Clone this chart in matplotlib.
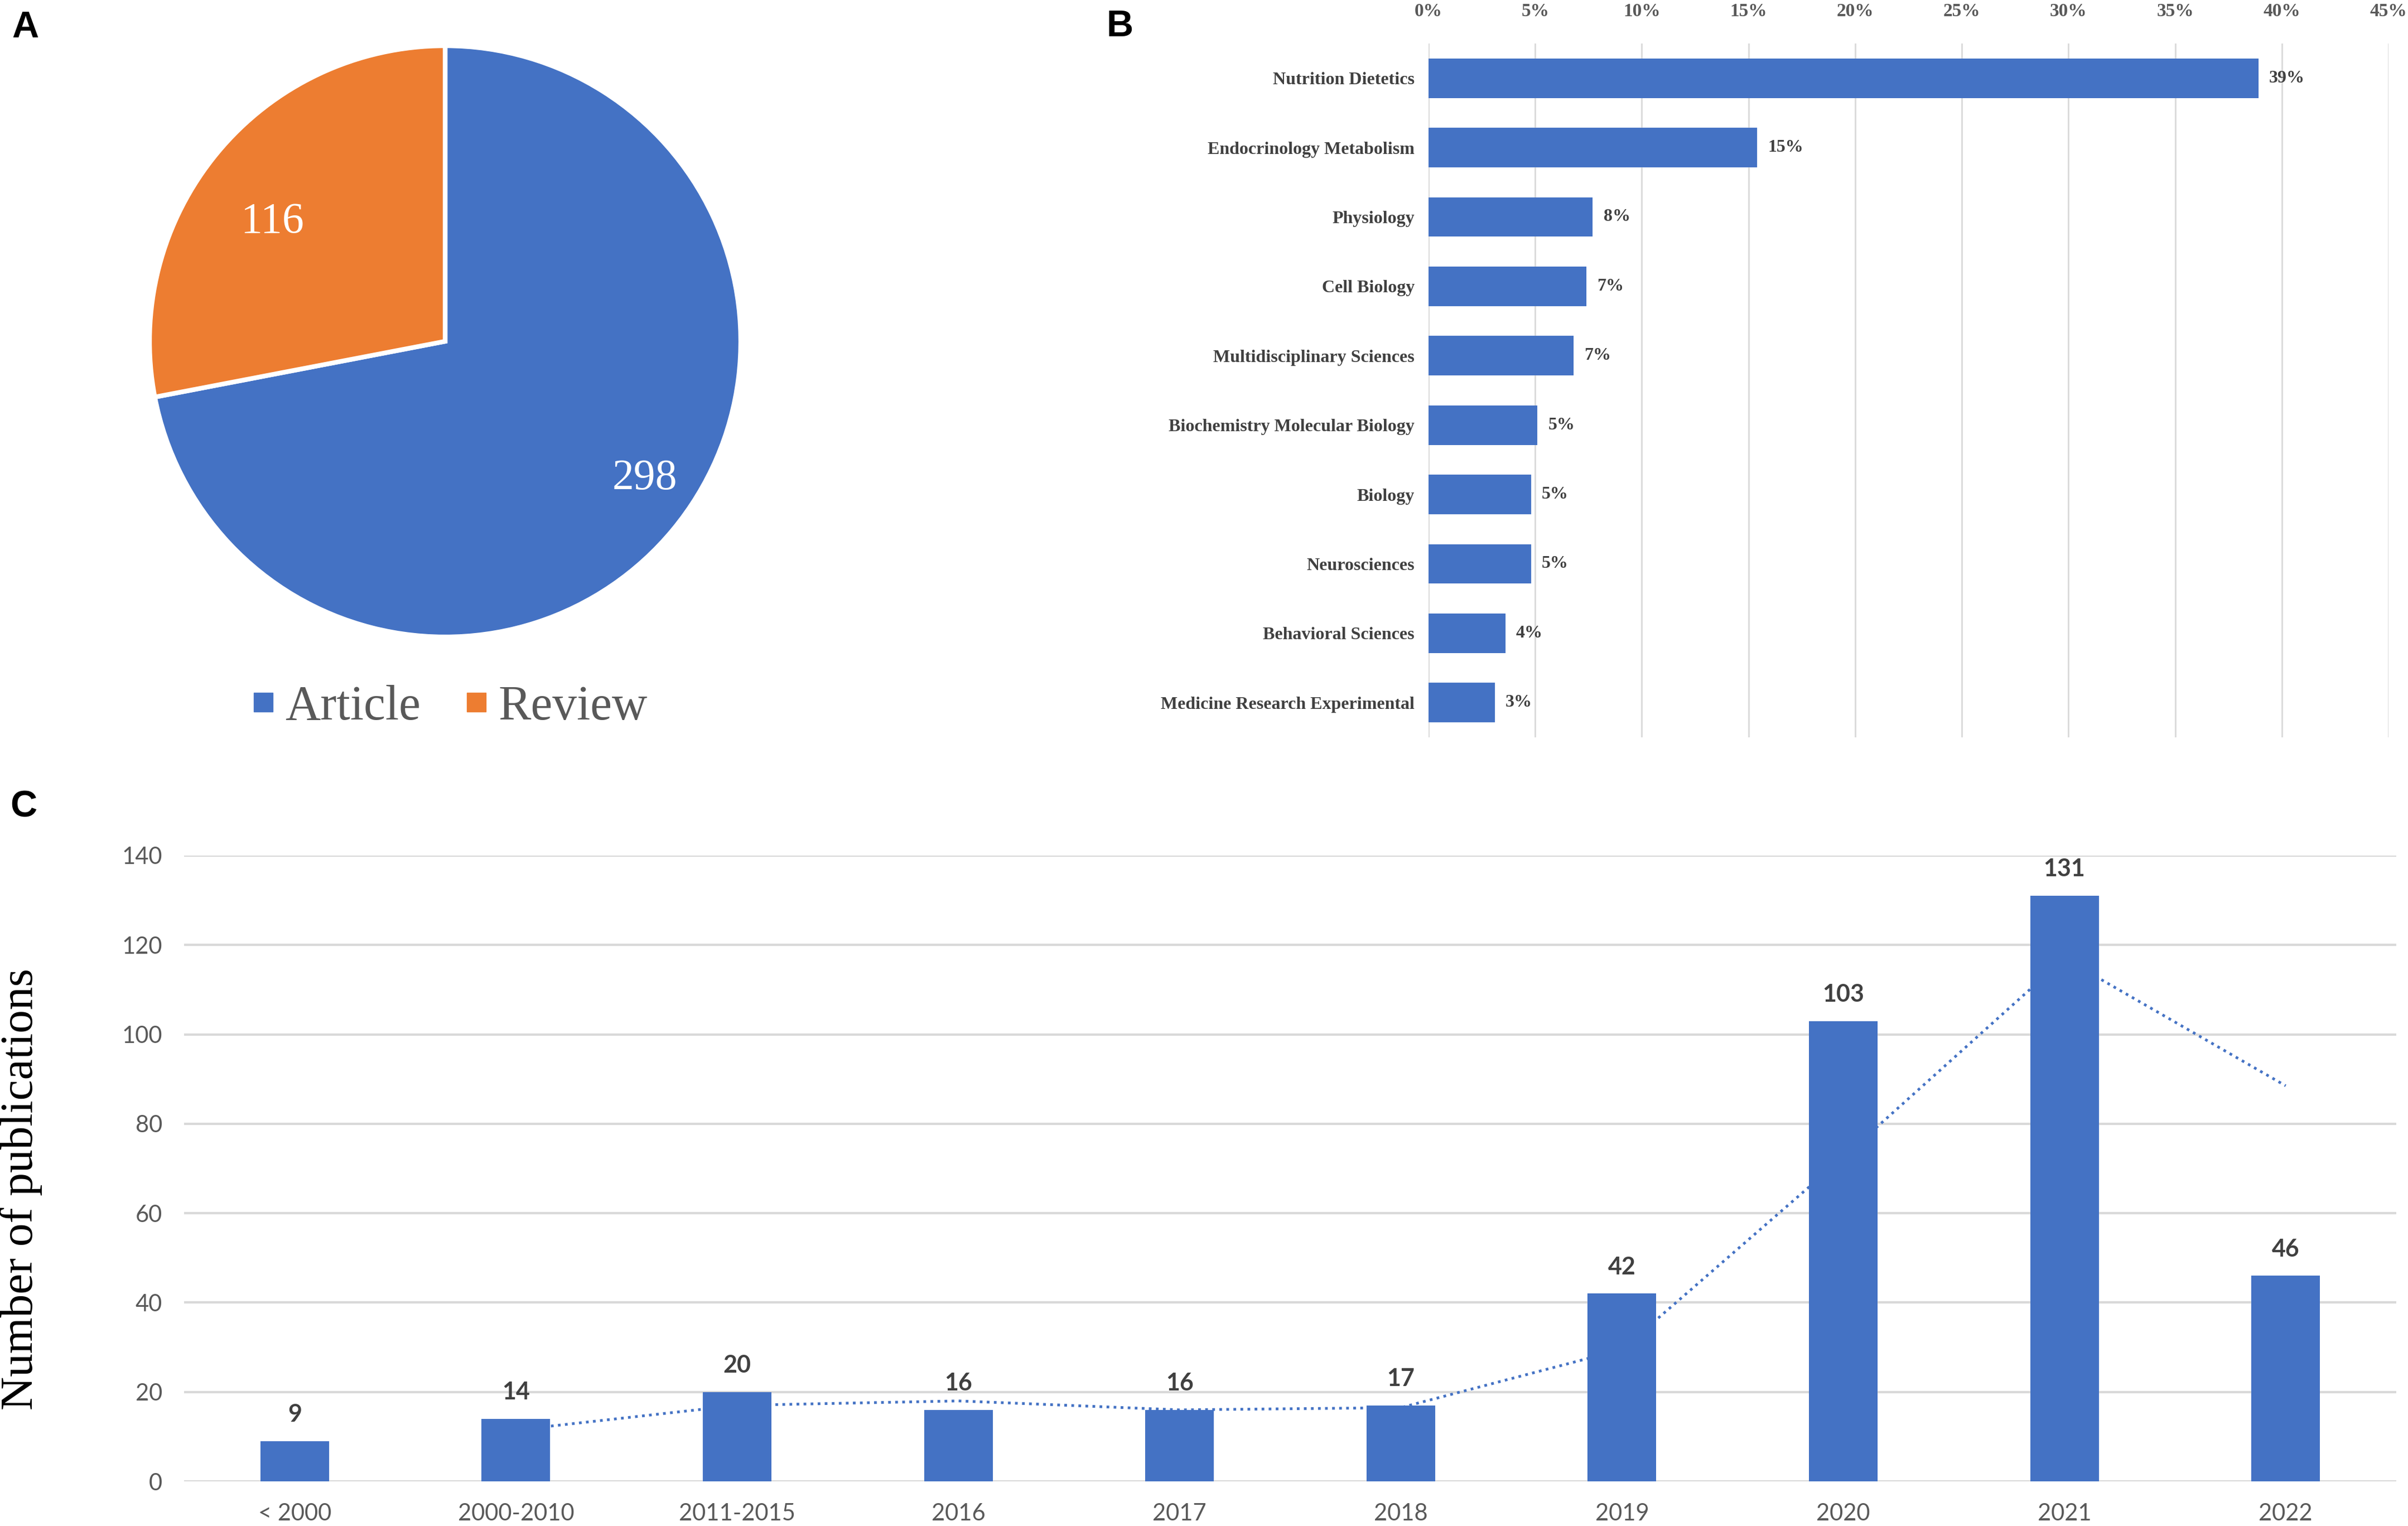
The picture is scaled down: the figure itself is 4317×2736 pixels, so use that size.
import numpy as np
import matplotlib
matplotlib.use("Agg")
import matplotlib.pyplot as plt
from matplotlib.lines import Line2D

# panel A: document types
doc_types = ["Article", "Review"]
doc_counts = [298, 116]

# panel B: research areas (share of publications, %)
areas = ["Nutrition Dietetics", "Endocrinology Metabolism", "Physiology", "Cell Biology",
         "Multidisciplinary Sciences", "Biochemistry Molecular Biology", "Biology",
         "Neurosciences", "Behavioral Sciences", "Medicine Research Experimental"]
area_share = [38.9, 15.4, 7.7, 7.4, 6.8, 5.1, 4.8, 4.8, 3.6, 3.1]
share_ticks = [0, 5, 10, 15, 20, 25, 30, 35, 40, 45]

# panel C: publications per period
periods = ["< 2000", "2000-2010", "2011-2015", "2016", "2017", "2018", "2019", "2020", "2021", "2022"]
pubs = [9, 14, 20, 16, 16, 17, 42, 103, 131, 46]
pub_ticks = [0, 20, 40, 60, 80, 100, 120, 140]

BLUE = "#4472C4"
ORANGE = "#ED7D31"
GRID = "#d9d9d9"
GRAY = "#595959"

W, H = 4317, 2736
fig = plt.figure(figsize=(W / 100, H / 100), dpi=100)

def box(x0, y0, x1, y1):
    # pixel box -> figure fraction rect
    return [x0 / W, 1 - y1 / H, (x1 - x0) / W, (y1 - y0) / H]

# ---- A: pie
axA = fig.add_axes(box(263, 82, 1333, 1142))
wedges, _ = axA.pie(doc_counts, colors=[BLUE, ORANGE], startangle=90, counterclock=False,
                    wedgeprops=dict(edgecolor="white", linewidth=6))
# value labels inside the slices
for w, n, dist in zip(wedges, doc_counts, [0.82, 0.71]):
    w.set_clip_on(False)
    ang = np.deg2rad((w.theta1 + w.theta2) / 2 + 5)
    axA.text(dist * np.cos(ang), dist * np.sin(ang), str(n), ha="center", va="center",
             color="white", fontsize=56, family="Liberation Serif")
axA.set_xlim(-1, 1)
axA.set_ylim(-1, 1)
axA.set_aspect("equal")
handles = [Line2D([], [], marker="s", linestyle="none", markersize=24, color=c) for c in [BLUE, ORANGE]]
leg = fig.legend(handles, doc_types, loc="center", bbox_to_anchor=(790 / W, 1 - 1268 / H), ncol=2,
                 frameon=False, handletextpad=-0.15, columnspacing=0.55, handlelength=1.2,
                 prop=dict(family="Liberation Serif", size=63))
for t in leg.get_texts():
    t.set_color(GRAY)

# ---- B: horizontal bars
axB = fig.add_axes(box(2561, 78, 4282, 1322))
ypos = np.arange(len(areas))
axB.barh(ypos, area_share, height=0.57, color=BLUE, zorder=2)
axB.set_ylim(len(areas) - 0.5, -0.5)
axB.set_xlim(0, 45)
axB.set_xticks(share_ticks)
axB.set_xticklabels(["%d%%" % v for v in share_ticks])
axB.xaxis.tick_top()
axB.set_yticks(ypos)
axB.set_yticklabels(areas)
axB.tick_params(axis="x", length=0, pad=30, labelsize=24, labelcolor=GRAY)
axB.tick_params(axis="y", length=0, pad=18, labelsize=23, labelcolor="#404040")
for lab in axB.get_xticklabels() + axB.get_yticklabels():
    lab.set_family("Liberation Serif")
    lab.set_fontweight("bold")
axB.grid(axis="x", color=GRID, linewidth=2, zorder=0)
for s in axB.spines.values():
    s.set_visible(False)
for y, v in zip(ypos, area_share):
    axB.annotate("%d%%" % round(v), (v, y), xytext=(14, 0), textcoords="offset points",
                 va="center", ha="left", fontsize=23, fontweight="bold",
                 family="Liberation Serif", color="#404040")

# ---- C: publications per year
axC = fig.add_axes(box(330, 1534, 4296, 2656))
x = np.arange(len(periods))
axC.bar(x, pubs, width=0.31, color=BLUE, zorder=2)
# two-period moving average trendline
ma = np.convolve(pubs, [0.5, 0.5], mode="valid")
axC.plot(x[1:], ma, color=BLUE, linestyle=(0, (1, 1.6)), linewidth=3.5, zorder=3)
axC.set_xlim(-0.5, len(periods) - 0.5)
axC.set_ylim(0, 140)
axC.set_yticks(pub_ticks)
axC.set_xticks(x)
axC.set_xticklabels(periods)
axC.tick_params(length=0, labelsize=30, labelcolor=GRAY, pad=28)
for lab in axC.get_xticklabels() + axC.get_yticklabels():
    lab.set_family("Lato")
axC.grid(axis="y", color=GRID, linewidth=3, zorder=0)
axC.set_axisbelow(True)
for s in axC.spines.values():
    s.set_visible(False)
for xi, v in zip(x, pubs):
    axC.annotate(str(v), (xi, v), xytext=(0, 20), textcoords="offset points",
                 ha="center", va="bottom", fontsize=31, fontweight="bold",
                 family="Lato", color="#404040")
fig.text(38 / W, 1 - 2132 / H, "Number of publications", rotation=90, ha="center", va="center",
         fontsize=60, family="Liberation Serif")

# panel letters
for letter, px, py in [("A", 45, 50), ("B", 2008, 48), ("C", 42, 1447)]:
    fig.text(px / W, 1 - py / H, letter, ha="center", va="center", fontsize=48,
             fontweight="bold", family="Liberation Sans")

fig.savefig("out.png", dpi=100)
